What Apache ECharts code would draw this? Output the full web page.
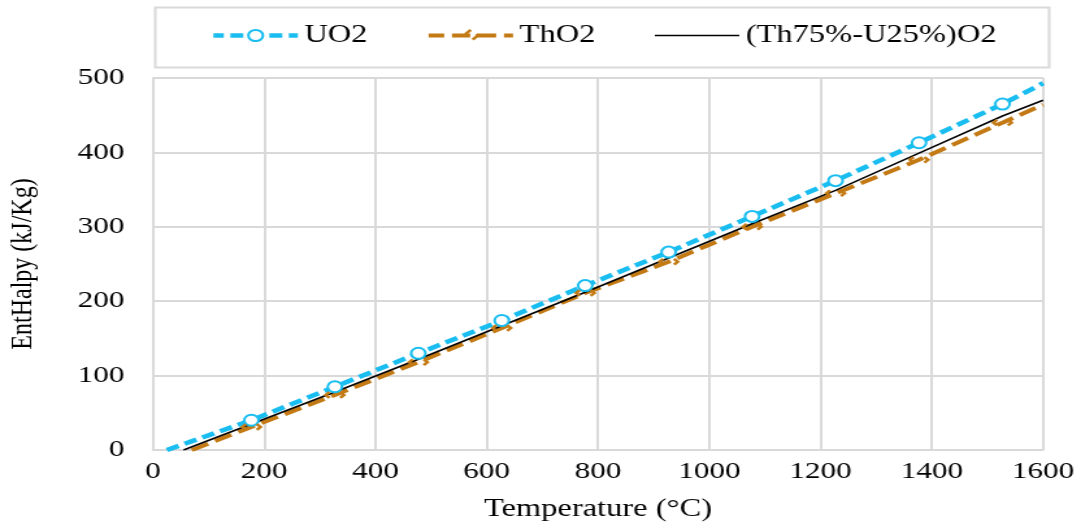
<!DOCTYPE html>
<html>
<head>
<meta charset="utf-8">
<script src="https://cdn.jsdelivr.net/npm/echarts@6.0.0/dist/echarts.min.js"></script>
<style>
  html, body { margin: 0; padding: 0; background: #fff; overflow: hidden; }
  /* the reference is a horizontally stretched export, so draw narrow and stretch */
  #chart { width: 832px; height: 524px; transform: scaleX(1.2993); transform-origin: 0 0; }
</style>
</head>
<body>
<div id="chart"></div>
<script>
// Temperature (°C) / enthalpy (kJ/Kg)
const uo2Temp = [25, 177, 327, 477, 627, 777, 927, 1077, 1227, 1377, 1527, 1600];
const uo2Val = [0, 40, 85, 130, 174, 221, 266, 314, 362, 413, 465, 493];

const tho2Temp = [70, 177, 327, 477, 627, 777, 927, 1077, 1227, 1377, 1527, 1600];
const tho2Val = [0, 31, 74, 118, 164, 211, 253, 300, 345, 390, 440, 464];

const mixTemp = [55, 177, 327, 477, 627, 777, 927, 1077, 1227, 1377, 1527, 1600];
const mixVal = [0, 35, 78, 122, 167, 212, 258, 304, 349, 399, 449, 470];

const seriesNames = ["UO2", "ThO2", "(Th75%-U25%)O2"];

const FONT = "Liberation Serif";
const GRID = "#D9D9D9";
const CYAN = "#19BDF0";
const ORANGE = "#C47A14";

const uo2Line = { color: CYAN, width: 4.5, type: [10, 5] };
const uo2Mark = { color: "#fff", borderColor: CYAN, borderWidth: 2 };
const tho2Line = { color: ORANGE, width: 4, type: [14, 6] };
// dashed diamond outline: only the left and right corners show, like the original
// (size 14 -> edge ~9.9, corners at 9.9 and 29.7 along the path)
const tho2Mark = {
  color: "rgba(0,0,0,0)",
  borderColor: ORANGE,
  borderWidth: 2.5,
  borderType: [8, 11.8],
  borderDashOffset: 13.9,
};
const mixLine = { color: "#000", width: 1.6 };

// end points of the curves carry no marker
function toPoints(temps, vals) {
  return temps.map((t, i) => {
    const end = i === 0 || i === temps.length - 1;
    return end ? { value: [t, vals[i]], symbol: "none" } : [t, vals[i]];
  });
}

const chart = echarts.init(document.getElementById("chart"));

const option = {
  animation: false,
  textStyle: { fontFamily: FONT, color: "#000" },
  graphic: [
    {
      type: "rect",
      left: 117,
      top: 5,
      shape: { width: 688, height: 60 },
      style: { fill: "none", stroke: GRID, lineWidth: 2 },
      silent: true,
    },
  ],
  legend: {
    data: [
      { name: seriesNames[0], lineStyle: uo2Line, itemStyle: uo2Mark },
      { name: seriesNames[1], lineStyle: tho2Line, itemStyle: tho2Mark },
      { name: seriesNames[2], lineStyle: mixLine, itemStyle: { opacity: 0 } },
    ],
    left: 162,
    top: 23,
    padding: 0,
    itemWidth: 65,
    itemHeight: 14,
    itemGap: 45,
    textStyle: { fontFamily: FONT, fontSize: 25, color: "#000" },
  },
  grid: { left: 117.7, right: 29.2, top: 78, bottom: 74, outerBoundsMode: "none", containLabel: false },
  xAxis: {
    type: "value",
    min: 0,
    max: 1600,
    interval: 200,
    name: "Temperature (°C)",
    nameLocation: "middle",
    nameGap: 47,
    nameTextStyle: { fontFamily: FONT, fontSize: 25, color: "#000" },
    axisLine: { show: true, lineStyle: { color: GRID, width: 2 } },
    axisTick: { show: false },
    axisLabel: {
      fontFamily: FONT,
      fontSize: 24,
      color: "#000",
      margin: 10,
      formatter: (v) => String(v),
    },
    splitLine: { show: true, lineStyle: { color: GRID, width: 2 } },
  },
  yAxis: {
    type: "value",
    min: 0,
    max: 500,
    interval: 100,
    name: "EntHalpy (kJ/Kg)",
    nameLocation: "middle",
    nameGap: 88,
    nameTextStyle: { fontFamily: FONT, fontSize: 24, color: "#000" },
    axisLine: { show: true, lineStyle: { color: GRID, width: 2 } },
    axisTick: { show: false },
    axisLabel: { fontFamily: FONT, fontSize: 24, color: "#000", margin: 22 },
    splitLine: { show: true, lineStyle: { color: GRID, width: 2 } },
  },
  series: [
    {
      name: seriesNames[0],
      type: "line",
      data: toPoints(uo2Temp, uo2Val),
      symbol: "circle",
      symbolSize: 11,
      showAllSymbol: true,
      lineStyle: uo2Line,
      itemStyle: uo2Mark,
    },
    {
      name: seriesNames[1],
      type: "line",
      data: toPoints(tho2Temp, tho2Val),
      symbol: "diamond",
      symbolSize: 14,
      showAllSymbol: true,
      lineStyle: tho2Line,
      itemStyle: tho2Mark,
    },
    {
      name: seriesNames[2],
      type: "line",
      data: mixTemp.map((t, i) => [t, mixVal[i]]),
      showSymbol: false,
      symbol: "none",
      lineStyle: mixLine,
      itemStyle: { color: "#000" },
    },
  ],
};

chart.setOption(option);
</script>
</body>
</html>
